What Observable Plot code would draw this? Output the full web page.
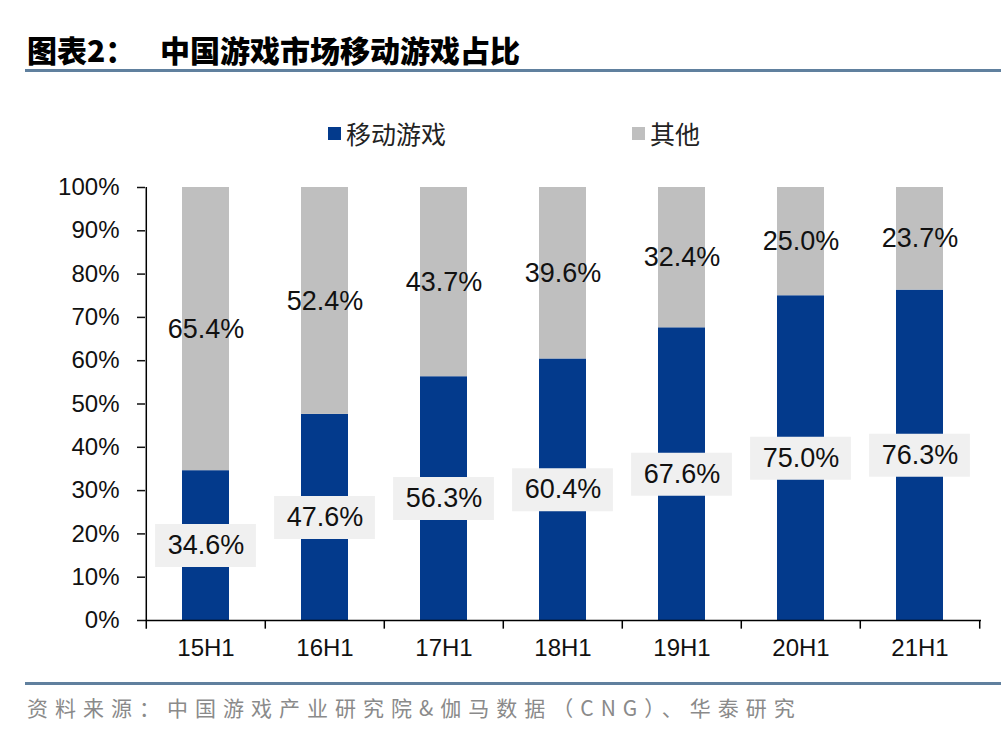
<!DOCTYPE html>
<html>
<head>
<meta charset="utf-8">
<script src="https://cdn.jsdelivr.net/npm/d3@7"></script>
<script src="https://cdn.jsdelivr.net/npm/@observablehq/plot@0.6"></script>
<style>
  html, body { margin: 0; padding: 0; background: #fff; }
  #page { position: relative; width: 1008px; height: 746px; overflow: hidden; font-family: "Noto Sans CJK SC", sans-serif; }
  #title { position: absolute; left: 27px; top: 29px; font-size: 30px; font-weight: 900; color: #000; white-space: nowrap; line-height: 40px; }
  #title .t1 { display: inline-block; width: 133px; }
  .rule { position: absolute; left: 25px; width: 976px; height: 3px; background: #60809e; }
  #legend { position: absolute; top: 115px; left: 0; width: 1008px; height: 36px; font-size: 25px; color: #222; }
  .li { position: absolute; top: 0; display: flex; align-items: center; height: 36px; }
  .sw { width: 13px; height: 13px; margin-right: 5px; }
  #chart { position: absolute; left: 0; top: 160px; }
  #source { position: absolute; left: 27px; top: 691px; font-size: 21px; color: #8a8a8a; letter-spacing: 7px; white-space: nowrap; line-height: 32px; }
</style>
</head>
<body>
<div id="page">
  <div id="title"><span class="t1">图表2：</span><span>中国游戏市场移动游戏占比</span></div>
  <div class="rule" style="top:69px"></div>
  <div id="legend"></div>
  <div id="chart"></div>
  <div class="rule" style="top:682px"></div>
  <div id="source">资料来源：中国游戏产业研究院&amp;伽马数据（CNG）、华泰研究</div>
</div>
<script>
const periods = ["15H1", "16H1", "17H1", "18H1", "19H1", "20H1", "21H1"];
const mobile = [34.6, 47.6, 56.3, 60.4, 67.6, 75.0, 76.3];
const other = [65.4, 52.4, 43.7, 39.6, 32.4, 25.0, 23.7];
const seriesNames = ["移动游戏", "其他"];
const seriesColors = ["#033a8c", "#bfbfbf"];
const yTicks = [0, 10, 20, 30, 40, 50, 60, 70, 80, 90, 100];

// legend
const legend = document.getElementById("legend");
const legendX = [328, 632];
seriesNames.forEach((n, i) => {
  const d = document.createElement("div");
  d.className = "li";
  d.style.left = legendX[i] + "px";
  d.innerHTML = `<span class="sw" style="background:${seriesColors[i]}"></span><span>${n}</span>`;
  legend.appendChild(d);
});

const rows = [];
periods.forEach((p, i) => {
  rows.push({period: p, series: seriesNames[0], value: mobile[i], y1: 0, y2: mobile[i]});
  rows.push({period: p, series: seriesNames[1], value: other[i], y1: mobile[i], y2: mobile[i] + other[i]});
});
const mobileRows = rows.filter(d => d.series === seriesNames[0]);
const otherRows = rows.filter(d => d.series === seriesNames[1]);

const width = 1008, height = 510;
const mL = 145, mR = 27;
const step = (width - mL - mR) / periods.length;
const pInner = 0.605;
const barW = step * (1 - pInner);
const boxW = 101;

const chart = Plot.plot({
  width, height,
  marginLeft: mL, marginRight: mR, marginTop: 27, marginBottom: 50,
  style: {fontFamily: "'Liberation Sans', Arial, sans-serif", fontSize: "24px", color: "#111", background: "#fff", overflow: "visible"},
  x: {domain: periods, paddingInner: pInner, paddingOuter: pInner / 2, align: 0.5, label: null, tickSize: 0, tickPadding: 18},
  y: {domain: [0, 100], ticks: yTicks, tickFormat: d => d + "%", label: null, tickSize: 8, tickPadding: 18},
  color: {domain: seriesNames, range: seriesColors},
  marks: [
    Plot.rectY(rows, {x: "period", y1: "y1", y2: "y2", fill: "series"}),
    Plot.tickY(mobileRows, {x: "period", y: d => d.value / 2, stroke: "#f0f0f0", strokeWidth: 43, insetLeft: -(boxW - barW) / 2, insetRight: -(boxW - barW) / 2, strokeLinecap: "butt"}),
    Plot.text(mobileRows, {x: "period", y: d => d.value / 2, text: d => d.value.toFixed(1) + "%", fontSize: 27, fill: "#111"}),
    Plot.text(otherRows, {x: "period", y: d => (d.y1 + d.y2) / 2, text: d => d.value.toFixed(1) + "%", fontSize: 27, fill: "#111"}),
    Plot.ruleY([0], {stroke: "#000", strokeWidth: 1.5}),
    Plot.ruleX([periods[0]], {x: d => d, dx: -step / 2, y1: -2, y2: 100, stroke: "#000", strokeWidth: 1.5}),
    Plot.ruleX(periods.slice(1), {x: d => d, dx: -step / 2, y1: -2, y2: 0, stroke: "#000", strokeWidth: 1.5}),
    Plot.ruleX([periods[periods.length - 1]], {x: d => d, dx: step / 2, y1: -2, y2: 0, stroke: "#000", strokeWidth: 1.5})
  ]
});
chart.querySelectorAll('[aria-label="y-axis tick"] path, [aria-label="y-axis tick"]').forEach(el => el.setAttribute("stroke-width", "1.5"));
document.getElementById("chart").appendChild(chart);
</script>
</body>
</html>
